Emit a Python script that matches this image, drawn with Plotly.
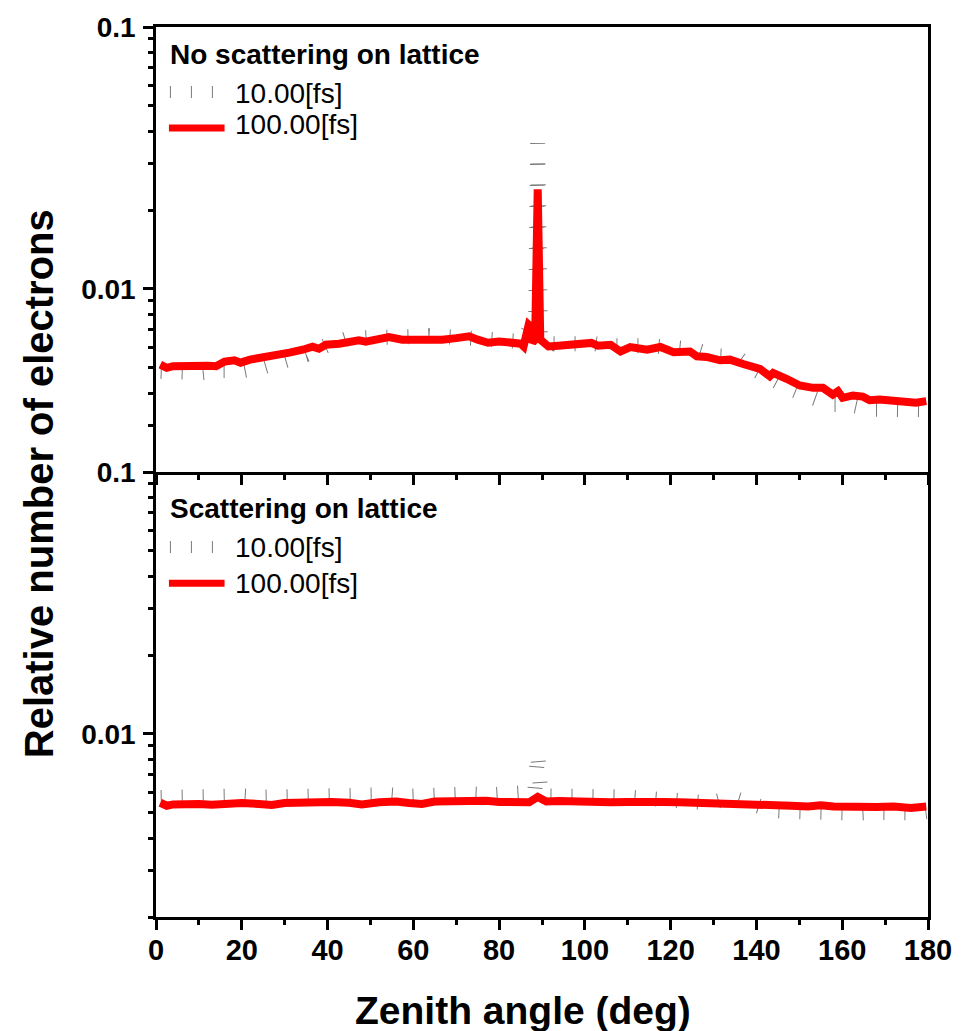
import plotly.graph_objects as go
from plotly.subplots import make_subplots

# ---------------- data ----------------
# Panel A: no scattering on lattice, 100 fs (red)
a100_x = [1.0, 2.5, 4.0, 6.0, 8.0, 10.0, 12.0, 14.0, 16.0, 18.3, 19.7, 21.9, 25.7, 28.0, 31.1,
          34.2, 36.5, 38.0, 39.6, 42.7, 45.8, 47.3, 48.9, 50.4, 52.7, 54.3, 57.4, 60.5, 64.4,
          65.1, 66.7, 70.0, 73.0, 75.0, 77.4, 80.0, 82.5, 85.0, 85.7, 86.3, 86.9, 87.3, 87.8,
          88.4, 89.0, 89.6, 90.3, 91.5, 93.8, 97.7, 101.5, 103.0, 106.0, 108.3, 110.6, 114.5,
          117.6, 120.7, 124.5, 126.1, 128.4, 131.5, 133.8, 136.9, 140.8, 143.1, 143.9, 147.0,
          150.1, 153.2, 155.5, 157.8, 159.0, 160.1, 162.5, 164.8, 166.4, 168.7, 171.0, 173.4,
          175.7, 177.2, 179.6]
a100_y = [0.00514, 0.00500, 0.00507, 0.00509, 0.00507, 0.00510, 0.00509, 0.00507, 0.00528,
          0.00534, 0.00523, 0.00537, 0.00547, 0.00558, 0.00571, 0.00586, 0.00602, 0.00591,
          0.00612, 0.00618, 0.00630, 0.00636, 0.00629, 0.00634, 0.00649, 0.00655, 0.00640,
          0.00640, 0.00640, 0.00629, 0.00640, 0.00649, 0.00659, 0.00640, 0.00623, 0.00630,
          0.00625, 0.00618, 0.00603, 0.00680, 0.00730, 0.00720, 0.00625, 0.00640, 0.02400,
          0.00640, 0.00630, 0.00603, 0.00607, 0.00612, 0.00622, 0.00607, 0.00612, 0.00577,
          0.00600, 0.00586, 0.00600, 0.00573, 0.00577, 0.00553, 0.00550, 0.00534, 0.00537,
          0.00517, 0.00495, 0.00464, 0.00478, 0.00454, 0.00428, 0.00419, 0.00419, 0.00395,
          0.00407, 0.00384, 0.00392, 0.00388, 0.00376, 0.00378, 0.00376, 0.00373, 0.00373,
          0.00368, 0.00373]

# Panel A: 10 fs (grey)
a10_x = [1.1, 5.9, 10.7, 15.5, 20.4, 25.2, 30.1, 34.9, 39.6, 44.5, 49.3, 54.2, 59.0, 63.7,
         68.6, 73.4, 78.3, 83.0, 85.5, 87.0, 88.0, 88.5, 89.0, 89.6, 90.5, 92.7, 97.3, 102.2,
         105.9, 111.4, 115.1, 120.9, 125.8, 130.2, 135.3, 139.2, 143.6, 148.0, 152.5, 157.7,
         161.5, 166.6, 171.0, 175.9, 179.6]
a10_y = [0.00484, 0.00479, 0.00479, 0.00488, 0.00488, 0.00505, 0.00528, 0.00561, 0.00607,
         0.00645, 0.00651, 0.00663, 0.00657, 0.00663, 0.00657, 0.00651, 0.00645, 0.00640,
         0.00630, 0.00700, 0.00640, 0.00700, 0.03600, 0.00660, 0.00630, 0.00618, 0.00624,
         0.00618, 0.00607, 0.00612, 0.00607, 0.00597, 0.00586, 0.00556, 0.00551, 0.00496,
         0.00451, 0.00415, 0.00388, 0.00362, 0.00362, 0.00347, 0.00347, 0.00341, 0.00345]

# Panel B: scattering on lattice, 100 fs (red)
b100_x = [1.0, 2.5, 4.0, 7.0, 10.0, 13.0, 16.0, 20.0, 24.0, 27.0, 30.0, 34.0, 38.0, 41.0,
          45.0, 48.0, 52.0, 56.0, 59.0, 62.0, 65.0, 69.0, 73.0, 77.0, 80.0, 84.0, 87.0, 89.0,
          91.0, 94.0, 98.0, 102.0, 106.0, 110.0, 114.0, 118.0, 122.0, 126.0, 130.0, 134.0,
          138.0, 141.0, 144.0, 148.0, 152.0, 155.0, 158.0, 162.0, 165.0, 168.0, 172.0, 176.0,
          179.6]
b100_y = [0.00546, 0.00532, 0.00538, 0.00542, 0.00540, 0.00536, 0.00542, 0.00545, 0.00540,
          0.00535, 0.00545, 0.00548, 0.00545, 0.00550, 0.00546, 0.00538, 0.00548, 0.00552,
          0.00545, 0.00540, 0.00552, 0.00555, 0.00552, 0.00556, 0.00550, 0.00552, 0.00548,
          0.00575, 0.00552, 0.00554, 0.00550, 0.00552, 0.00548, 0.00550, 0.00546, 0.00550,
          0.00548, 0.00546, 0.00548, 0.00544, 0.00546, 0.00542, 0.00534, 0.00532, 0.00528,
          0.00534, 0.00528, 0.00524, 0.00530, 0.00526, 0.00528, 0.00522, 0.00528]

# Panel B: 10 fs (grey)
b10_x = [1.1, 5.9, 10.7, 15.5, 20.4, 25.2, 30.1, 34.9, 39.6, 44.5, 49.3, 54.2, 59.0, 63.7,
         68.6, 73.4, 78.3, 83.0, 87.0, 88.3, 89.0, 89.7, 91.0, 95.5, 100.3, 105.1, 110.0,
         114.8, 119.6, 124.5, 129.3, 134.1, 138.9, 143.8, 148.6, 153.4, 158.2, 163.1, 167.9,
         172.7, 177.5, 179.6]
b10_y = [0.00572, 0.00578, 0.00570, 0.00576, 0.00580, 0.00574, 0.00578, 0.00582, 0.00576,
         0.00584, 0.00580, 0.00586, 0.00578, 0.00588, 0.00584, 0.00590, 0.00586, 0.00588,
         0.00585, 0.00600, 0.00840, 0.00600, 0.00580, 0.00584, 0.00578, 0.00576, 0.00574,
         0.00570, 0.00566, 0.00560, 0.00545, 0.00572, 0.00540, 0.00510, 0.00505, 0.00500,
         0.00508, 0.00498, 0.00502, 0.00496, 0.00500, 0.00505]

panel_titles = ["No scattering on lattice", "Scattering on lattice"]
series_names = ["10.00[fs]", "100.00[fs]"]
x_ticks = [0, 20, 40, 60, 80, 100, 120, 140, 160, 180]
y_major = [0.01, 0.1]
y_major_text = ["0.01", "0.1"]
y_minor = [0.002, 0.003, 0.004, 0.005, 0.006, 0.007, 0.008, 0.009,
           0.02, 0.03, 0.04, 0.05, 0.06, 0.07, 0.08, 0.09]

# ---------------- figure ----------------
W, H = 964, 1031
ML, MR, MT, MB = 156, 31, 26, 114
PW, PH = W - ML - MR, H - MT - MB
FONT = "Arial, Liberation Sans, sans-serif"
GREY = "#7a7a7a"
RED = "#ff0000"
GREY_DASH = "1px,20px"
GREY_W = 15

fig = make_subplots(rows=2, cols=1, shared_xaxes=True, vertical_spacing=0)

for row, (gx, gy, rx, ry) in enumerate([(a10_x, a10_y, a100_x, a100_y),
                                         (b10_x, b10_y, b100_x, b100_y)], start=1):
    fig.add_trace(go.Scatter(x=gx, y=gy, mode="lines", name=series_names[0],
                             line=dict(color=GREY, width=GREY_W, dash=GREY_DASH),
                             showlegend=False), row=row, col=1)
    fig.add_trace(go.Scatter(x=rx, y=ry, mode="lines", name=series_names[1],
                             line=dict(color=RED, width=8),
                             showlegend=False), row=row, col=1)

axis_common = dict(showline=True, linecolor="black", linewidth=2.5,
                   showgrid=False, zeroline=False, ticks="outside", ticklen=10,
                   tickwidth=2.5, tickcolor="black")

for r in (1, 2):
    fig.update_xaxes(range=[0, 180], tickvals=x_ticks,
                     minor=dict(ticks="outside", ticklen=5, tickwidth=2.5,
                                tickcolor="black", dtick=10, tick0=0),
                     tickfont=dict(family=FONT, size=29, color="black", weight="bold"),
                     ticklabelstandoff=-5, mirror=(r == 1),
                     row=r, col=1, **axis_common)
    fig.update_yaxes(type="log", range=[-2.69897, -1.0], tickmode="array",
                     tickvals=y_major, ticktext=y_major_text,
                     minor=dict(ticks="outside", ticklen=5, tickwidth=2.5,
                                tickcolor="black", tickmode="array", tickvals=y_minor),
                     tickfont=dict(family=FONT, size=28, color="black", weight="bold"),
                     ticklabelstandoff=2, mirror=True,
                     row=r, col=1, **axis_common)
fig.update_xaxes(showticklabels=False, row=1, col=1)
fig.update_xaxes(showticklabels=True, row=2, col=1)


def px_x(p):
    return (p - ML) / PW


def px_y(p):
    return (H - MB - p) / PH


annotations = []
shapes = []
# manual legends: (title middle y, grey sample y, 10fs text y, red sample y, 100fs text y)
legend_rows = [(53.5, 91, 93, 127, 123.5), (508, 546.5, 547, 583, 583.5)]
for title, (ty, gys, gty, rys, rty) in zip(panel_titles, legend_rows):
    annotations.append(dict(text=title, x=px_x(168), y=px_y(ty), xref="paper", yref="paper",
                            xanchor="left", yanchor="middle", showarrow=False,
                            font=dict(family=FONT, size=28, color="black", weight="bold")))
    shapes.append(dict(type="line", xref="paper", yref="paper",
                       x0=px_x(170), x1=px_x(225), y0=px_y(gys), y1=px_y(gys),
                       line=dict(color=GREY, width=12, dash=GREY_DASH)))
    annotations.append(dict(text=series_names[0], x=px_x(234), y=px_y(gty), xref="paper",
                            yref="paper", xanchor="left", yanchor="middle", showarrow=False,
                            font=dict(family=FONT, size=28, color="black")))
    shapes.append(dict(type="line", xref="paper", yref="paper",
                       x0=px_x(169), x1=px_x(225), y0=px_y(rys), y1=px_y(rys),
                       line=dict(color=RED, width=7)))
    annotations.append(dict(text=series_names[1], x=px_x(234), y=px_y(rty), xref="paper",
                            yref="paper", xanchor="left", yanchor="middle", showarrow=False,
                            font=dict(family=FONT, size=28, color="black")))

# axis titles
annotations.append(dict(text="Zenith angle (deg)", x=px_x(525), y=px_y(1011), xref="paper",
                        yref="paper", xanchor="center", yanchor="middle", showarrow=False,
                        font=dict(family=FONT, size=39, color="black", weight="bold")))
annotations.append(dict(text="Relative number of electrons", x=px_x(39), y=px_y(483),
                        xref="paper", yref="paper", xanchor="center", yanchor="middle",
                        showarrow=False, textangle=-90,
                        font=dict(family=FONT, size=40, color="black", weight="bold")))

fig.update_layout(width=W, height=H, margin=dict(l=ML, r=MR, t=MT, b=MB),
                  plot_bgcolor="white", paper_bgcolor="white",
                  annotations=annotations, shapes=shapes, showlegend=False)

fig.write_html("out.html", config={"displayModeBar": False},
               post_script="document.body.style.margin='0px';")
